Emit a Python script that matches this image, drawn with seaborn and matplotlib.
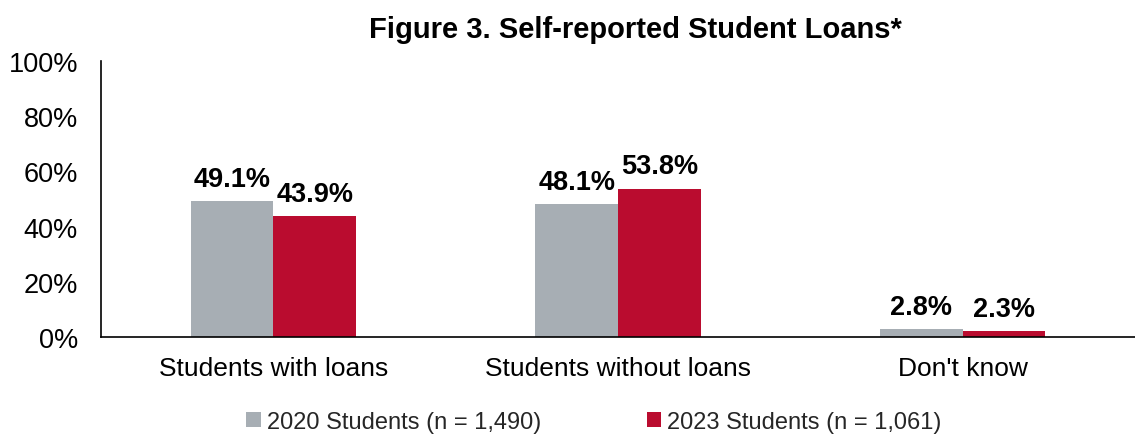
import matplotlib
matplotlib.use("Agg")
import matplotlib.pyplot as plt
import seaborn as sns
import pandas as pd
from matplotlib.patches import Patch

categories = ["Students with loans", "Students without loans", "Don't know"]
series_names = ["2020 Students (n = 1,490)", "2023 Students (n = 1,061)"]
values_2020 = [49.1, 48.1, 2.8]
values_2023 = [43.9, 53.8, 2.3]
yticks = [0, 20, 40, 60, 80, 100]
colors = ["#A7AEB4", "#BA0C2F"]

df = pd.DataFrame({
    "Category": categories * 2,
    "Series": [series_names[0]] * 3 + [series_names[1]] * 3,
    "Value": values_2020 + values_2023,
})

sns.set_theme(style="white")
plt.rcParams["font.family"] = ["Liberation Sans", "DejaVu Sans"]

fig = plt.figure(figsize=(11.35, 4.35), dpi=100)
ax = fig.add_axes([101 / 1135, 1 - 338 / 435, 1 - 101 / 1135, (338 - 62) / 435])

sns.barplot(data=df, x="Category", y="Value", hue="Series", palette=colors,
            width=0.48, gap=0, ax=ax, legend=False, saturation=1, linewidth=0)

for container in ax.containers:
    ax.bar_label(container, labels=[f"{v:.1f}%" for v in container.datavalues],
                 padding=6.5, fontsize=19.5, fontweight="bold", color="black")

ax.set_xlim(-0.5, 2.5)
ax.set_ylim(0, 100)
ax.set_yticks(yticks)
ax.set_yticklabels([f"{t}%" for t in yticks], fontsize=19.5, color="black")
ax.tick_params(axis="x", labelsize=19, colors="black", pad=14, length=0)
ax.tick_params(axis="y", pad=16.5, length=0)
ax.set_xlabel("")
ax.set_ylabel("")
for s in ["top", "right"]:
    ax.spines[s].set_visible(False)
for s in ["left", "bottom"]:
    ax.spines[s].set_color("black")
    ax.spines[s].set_linewidth(1.2)

fig.text(635 / 1135, 1 - 30 / 435, "Figure 3. Self-reported Student Loans*",
         ha="center", va="center", fontsize=21, fontweight="bold", color="black")

handles = [Patch(facecolor=c, edgecolor="none") for c in colors]
fig.legend(handles, series_names, loc="center", bbox_to_anchor=(594 / 1135, 1 - 423 / 435),
           ncol=2, frameon=False, fontsize=17, handlelength=0.6, handleheight=0.6,
           handletextpad=0.25, columnspacing=4.5)

fig.savefig("out.png", dpi=100)
